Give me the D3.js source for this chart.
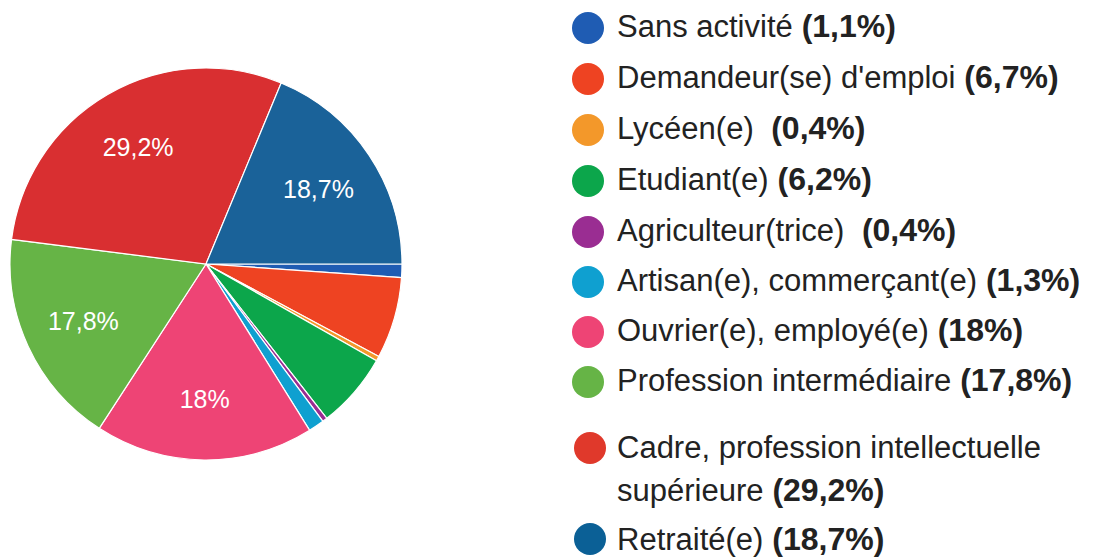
<!DOCTYPE html>
<html>
<head>
<meta charset="utf-8">
<script src="https://cdn.jsdelivr.net/npm/d3@7"></script>
<style>
  body { margin: 0; background: #fff; }
  svg { display: block; font-family: "Liberation Sans", Arial, sans-serif; }
</style>
</head>
<body>
<div id="chart"></div>
<script>
// categories, values (%) and colours, in pie order (clockwise from 3 o'clock)
let categories = [
    "Sans activité",
    "Demandeur(se) d'emploi",
    "Lycéen(e) ",
    "Etudiant(e)",
    "Agriculteur(trice) ",
    "Artisan(e), commerçant(e)",
    "Ouvrier(e), employé(e)",
    "Profession intermédiaire",
    "Cadre, profession intellectuelle|supérieure",
    "Retraité(e)"
];
let values = [1.1, 6.7, 0.4, 6.2, 0.4, 1.3, 18, 17.8, 29.2, 18.7];
let sliceColors = ["#1f5cb3", "#ee4322", "#f3982a", "#0ca64b", "#9a2d92", "#0fa0d0", "#ee4475", "#66b446", "#d92f31", "#1a6299"];
let legendColors = ["#1f5cb3", "#ee4322", "#f3982a", "#0ca64b", "#9a2d92", "#0fa0d0", "#ee4475", "#66b446", "#e0392b", "#0b6096"];

let width = 1096, height = 559;
let cx = 206, cy = 264, radius = 196;

let fmt = v => String(v).replace(".", ",") + "%";

let svg = d3.select("#chart").append("svg")
    .attr("width", width)
    .attr("height", height);

let pie = d3.pie()
    .sort(null)
    .value(d => d)
    .startAngle(Math.PI / 2)
    .endAngle(Math.PI / 2 + 2 * Math.PI);

let arc = d3.arc().innerRadius(0).outerRadius(radius);
let labelArc = d3.arc().innerRadius(radius * 0.69).outerRadius(radius * 0.69);

let g = svg.append("g")
    .attr("transform", "translate(" + cx + "," + cy + ")");

let arcs = pie(values);

g.selectAll(".slice")
    .data(arcs)
    .enter().append("path")
    .attr("class", "slice")
    .attr("d", arc)
    .attr("fill", (d, i) => sliceColors[i])
    .attr("stroke", "#fff")
    .attr("stroke-width", 1.2);

// only the big slices get a label
g.selectAll(".slice-label")
    .data(arcs.filter(d => d.data > 10))
    .enter().append("text")
    .attr("class", "slice-label")
    .attr("transform", d => "translate(" + labelArc.centroid(d) + ")")
    .attr("text-anchor", "middle")
    .attr("dy", "0.36em")
    .attr("fill", "#fff")
    .style("font-size", "25px")
    .text(d => fmt(d.data));

// legend
let rowY = [28, 79, 130, 181, 232, 282, 332, 382, 448, 539];
let legend = svg.append("g");

let items = legend.selectAll(".item")
    .data(categories)
    .enter().append("g")
    .attr("class", "item")
    .attr("transform", (d, i) => "translate(0," + rowY[i] + ")");

items.append("circle")
    .attr("cx", (d, i) => i >= 8 ? 590 : 588)
    .attr("cy", 0)
    .attr("r", 16)
    .attr("fill", (d, i) => legendColors[i]);

items.each(function(d, i) {
    let lines = d.split("|");
    let t = d3.select(this).append("text")
        .attr("x", 617)
        .attr("y", i === 9 ? 11 : (i === 8 ? 10 : 9))
        .attr("fill", "#222")
        .style("white-space", "pre")
        .style("font-size", "31px");
    lines.forEach((line, k) => {
        t.append("tspan")
            .attr("x", 617)
            .attr("dy", k === 0 ? 0 : 43)
            .text(line);
        if (k === lines.length - 1) {
            t.append("tspan")
                .style("font-weight", "bold")
                .style("font-size", "32px")
                .text(" (" + fmt(values[i]) + ")");
        }
    });
});
</script>
</body>
</html>
